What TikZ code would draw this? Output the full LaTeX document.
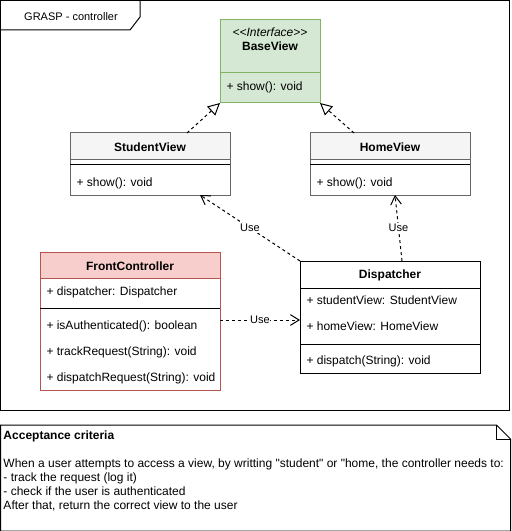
\documentclass[tikz,border=0pt]{standalone}
\usepackage{fontspec}
\setmainfont{Liberation Sans}[Ligatures=TeXOff]
\usetikzlibrary{arrows.meta,calc}
\definecolor{grayfill}{HTML}{F5F5F5}
\definecolor{graystroke}{HTML}{666666}
\definecolor{greenfill}{HTML}{D5E8D4}
\definecolor{greenstroke}{HTML}{82B366}
\definecolor{redfill}{HTML}{F8CECC}
\definecolor{redstroke}{HTML}{B85450}
\begin{document}
\begin{tikzpicture}[x=0.75pt,y=-0.75pt, font=\fontsize{9}{10.5}\selectfont,
 line width=0.75pt,
 box/.style={draw, anchor=north west, inner sep=0, outer sep=0, line width=0.75pt},
 lbl/.style={anchor=west, inner sep=0},
 ttl/.style={inner sep=0, font=\fontsize{9}{10.5}\selectfont\bfseries},
 dep/.style={dash pattern=on 2.25pt off 2.25pt, -{Straight Barb[length=6.5pt,width=8pt]}},
 real/.style={dash pattern=on 2.25pt off 2.25pt, -{Triangle[open,length=9pt,width=9pt,fill=white]}},
 uselbl/.style={fill=white, inner sep=0.5pt, font=\fontsize{8.25}{10}\selectfont}
]
\useasboundingbox (0,0) rectangle (511,531);

% frame
\node[box, minimum width=381.75pt, minimum height=307.125pt] (frame) at (0.5,0.5) {};
\draw ($(frame.north west)+(0,29.5)$) coordinate (tabb) -- ($(frame.north west)+(129.5,29.5)$) -- ($(frame.north west)+(139.5,16.5)$) -- ($(frame.north west)+(139.5,0)$);
\node[inner sep=0, font=\fontsize{8.25}{10}\selectfont] (frametitle) at (71,17) {GRASP - controller};

% BaseView
\node[box, fill=greenfill, draw=greenstroke, minimum width=75pt, minimum height=62.25pt] (bv) at (220,20) {};
\draw[greenstroke] ($(bv.north west)+(0,53)$) -- ($(bv.north east)+(0,53)$);
\node[inner sep=0, font=\fontsize{9}{10.5}\selectfont\itshape] (bvst) at (270,32) {<\kern0pt<Interface>\kern0pt>};
\node[ttl] (bvt) at (270,46) {BaseView};
\node[lbl] (bvm) at (226,87) {+ show(): void};

% StudentView
\node[box, draw=graystroke, fill=white, minimum width=120pt, minimum height=46.5pt] (sv) at (70,133) {};
\draw[graystroke, fill=grayfill] (sv.north west) rectangle ($(sv.north east)+(0,26)$);
\draw[black] ($(sv.north west)+(0,31)$) -- ($(sv.north east)+(0,31)$);
\node[ttl] (svt) at (150,147) {StudentView};
\node[lbl] (svm) at (76,183) {+ show(): void};

% HomeView
\node[box, draw=graystroke, fill=white, minimum width=120pt, minimum height=46.5pt] (hv) at (310,133) {};
\draw[graystroke, fill=grayfill] (hv.north west) rectangle ($(hv.north east)+(0,26)$);
\draw[black] ($(hv.north west)+(0,31)$) -- ($(hv.north east)+(0,31)$);
\node[ttl] (hvt) at (390,147) {HomeView};
\node[lbl] (hvm) at (316,183) {+ show(): void};

% FrontController
\node[box, draw=redstroke, fill=white, minimum width=135pt, minimum height=103.5pt] (fc) at (40,252) {};
\draw[redstroke, fill=redfill] (fc.north west) rectangle ($(fc.north east)+(0,26)$);
\draw[black] ($(fc.north west)+(0,56)$) -- ($(fc.north east)+(0,56)$);
\node[ttl] (fct) at (130,266) {FrontController};
\node[lbl] (fca) at (46,292) {+ dispatcher: Dispatcher};
\node[lbl] (fcm1) at (46,326) {+ isAuthenticated(): boolean};
\node[lbl] (fcm2) at (46,352) {+ trackRequest(String): void};
\node[lbl] (fcm3) at (46,378) {+ dispatchRequest(String): void};

% Dispatcher
\node[box, fill=white, minimum width=135pt, minimum height=84pt] (dp) at (300,261) {};
\draw ($(dp.north west)+(0,27)$) -- ($(dp.north east)+(0,27)$);
\draw ($(dp.north west)+(0,83)$) -- ($(dp.north east)+(0,83)$);
\node[ttl] (dpt) at (390,275) {Dispatcher};
\node[lbl] (dpa1) at (306,300) {+ studentView: StudentView};
\node[lbl] (dpa2) at (306,326) {+ homeView: HomeView};
\node[lbl] (dpm) at (306,361) {+ dispatch(String): void};

% connectors
\draw[real] ($(sv.north west)+(117,0)$) -- (bv.south west);
\draw[real] ($(hv.north west)+(44,0)$) -- (bv.south east);
\draw[dep] ($(fc.north east)+(0,68)$) -- node[uselbl] (use1) {Use} ($(dp.north west)+(0,59)$);
\draw[dep] (dp.north west) -- node[uselbl] (use2) {Use} ($(sv.south west)+(130,0)$);
\draw[dep] ($(dp.north west)+(102,0)$) -- node[uselbl] (use3) {Use} ($(hv.south west)+(85,0)$);

% note
\node[anchor=north west, inner sep=0, minimum width=381.75pt, minimum height=78.75pt] (note) at (0.5,425) {};
\draw (note.north west) -- ($(note.north east)+(-14,0)$) -- ($(note.north east)+(0,14)$) -- (note.south east) -- (note.south west) -- cycle;
\draw ($(note.north east)+(-14,0)$) -- ($(note.north east)+(-14,14)$) -- ($(note.north east)+(0,14)$);
\node[anchor=base west, inner sep=0, align=left] (notetext) at (3,509.5) {\textbf{Acceptance criteria}\\[10.5pt]
When a user attempts to access a view, by writting "student" or "home, the controller needs to:\\
- track the request (log it)\\
- check if the user is authenticated\\
After that, return the correct view to the user};
\end{tikzpicture}
\end{document}
